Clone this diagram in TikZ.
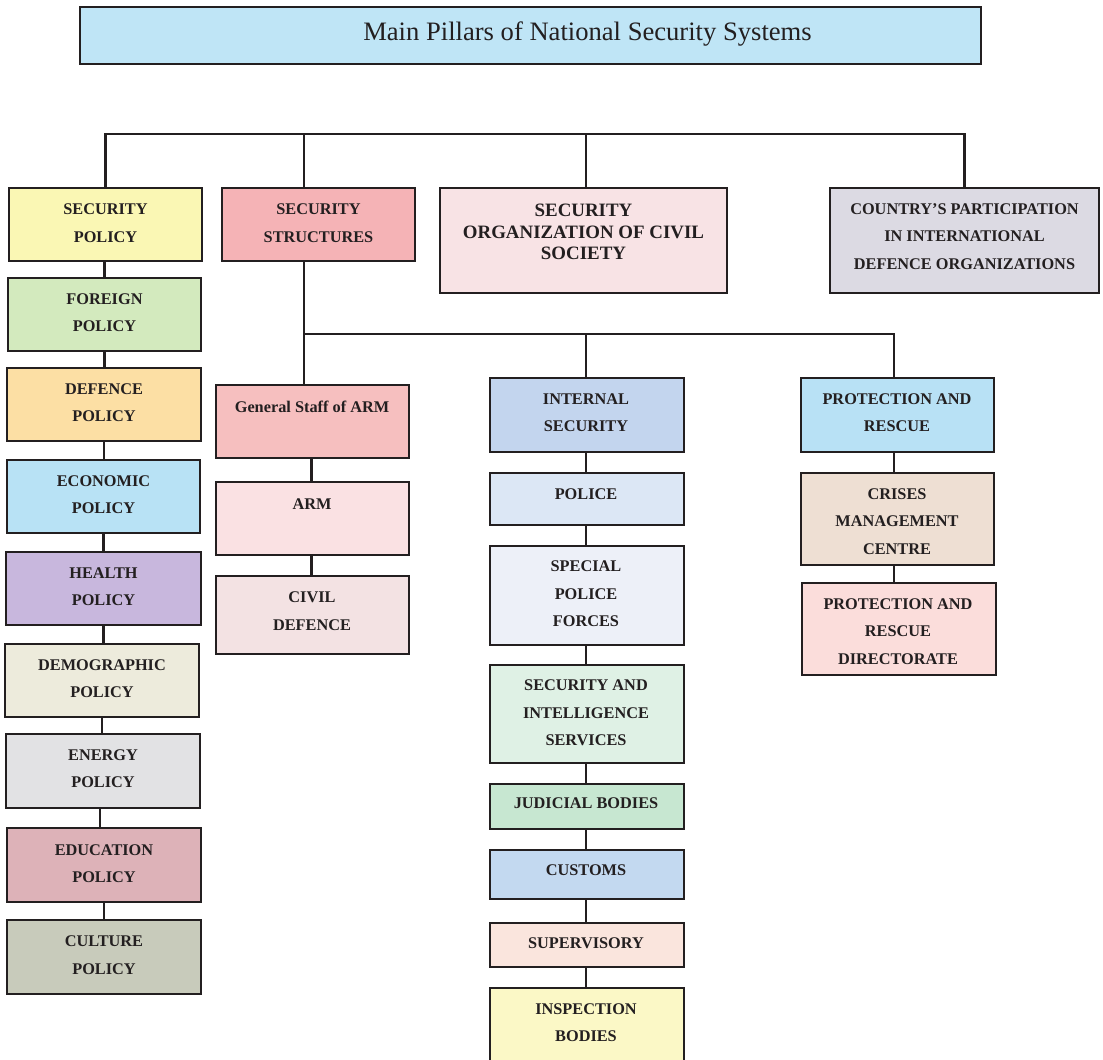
\documentclass[tikz,border=0pt]{standalone}
\usepackage{fontspec}
\setmainfont{Liberation Serif}
\usetikzlibrary{fit}

\definecolor{ink}{HTML}{231F20}
\definecolor{cTitle}{HTML}{BFE5F6}
\definecolor{cSecPol}{HTML}{FAF7B4}
\definecolor{cSecStr}{HTML}{F5B3B6}
\definecolor{cCivil}{HTML}{F8E3E5}
\definecolor{cCountry}{HTML}{DCDAE3}
\definecolor{cForeign}{HTML}{D3EABE}
\definecolor{cDefence}{HTML}{FCDFA4}
\definecolor{cEconomic}{HTML}{B8E2F5}
\definecolor{cHealth}{HTML}{C8B7DD}
\definecolor{cDemo}{HTML}{EDEBDC}
\definecolor{cEnergy}{HTML}{E2E2E4}
\definecolor{cEducation}{HTML}{DDB2B8}
\definecolor{cCulture}{HTML}{C8CBBB}
\definecolor{cGenStaff}{HTML}{F6BFBF}
\definecolor{cArm}{HTML}{FAE1E3}
\definecolor{cCivDef}{HTML}{F3E2E3}
\definecolor{cInternal}{HTML}{C3D5EE}
\definecolor{cPolice}{HTML}{DCE7F5}
\definecolor{cSpecial}{HTML}{EDF0F8}
\definecolor{cIntel}{HTML}{DFF1E5}
\definecolor{cJudicial}{HTML}{C7E7D1}
\definecolor{cCustoms}{HTML}{C3D9F0}
\definecolor{cSuperv}{HTML}{FAE5DD}
\definecolor{cInspect}{HTML}{FBF8C6}
\definecolor{cProtect}{HTML}{B8E1F5}
\definecolor{cCrises}{HTML}{EEDFD3}
\definecolor{cDirect}{HTML}{FBDDDB}

\tikzset{
  box/.style={draw=ink, line width=2.1pt, rectangle, inner sep=0pt, fill=#1},
  lbl/.style={inner sep=0pt, align=center, text=ink,
    font=\fontsize{16.3}{27.5}\selectfont\bfseries},
  biglbl/.style={inner sep=0pt, align=center, text=ink,
    font=\fontsize{18.9}{21.5}\selectfont\bfseries},
  link/.style={draw=ink, line width=2.1pt},
}

\begin{document}
\begin{tikzpicture}[x=1pt, y=-1pt]
\clip (0,0) rectangle (1103,1060);
\fill[white] (0,0) rectangle (1103,1060);

% title
\node[box=cTitle, fit={(80,7) (981,64)}] (title) {};
\node[inner sep=0pt, text=ink, font=\fontsize{26.6}{30}\selectfont] (title-t) at (587.5,34.5) {Main Pillars of National Security Systems};

% first level
\node[box=cSecPol,  fit={(9,188) (202,261)}]   (sp)  {};
\node[lbl] (sp-t) at (105.5,223) {SECURITY\\POLICY};
\node[box=cSecStr,  fit={(222,188) (415,261)}] (ss)  {};
\node[lbl] (ss-t) at (318.5,223) {SECURITY\\STRUCTURES};
\node[box=cCivil,   fit={(440,188) (727,293)}] (cs)  {};
\node[biglbl] (cs-t) at (583.5,232) {SECURITY\\ORGANIZATION OF CIVIL\\SOCIETY};
\node[box=cCountry, fit={(830,188) (1099,293)}] (cty) {};
\node[lbl] (cty-t) at (964.5,236.5) {COUNTRY'S PARTICIPATION\\IN INTERNATIONAL\\DEFENCE ORGANIZATIONS};

% policies
\node[box=cForeign,   fit={(8,278) (201,351)}] (fp)   {};
\node[lbl] (fp-t) at (104.5,312.5) {FOREIGN\\POLICY};
\node[box=cDefence,   fit={(7,368) (201,441)}] (dp)   {};
\node[lbl] (dp-t) at (104,402.5) {DEFENCE\\POLICY};
\node[box=cEconomic,  fit={(7,460) (200,533)}] (ep)   {};
\node[lbl] (ep-t) at (103.5,494.5) {ECONOMIC\\POLICY};
\node[box=cHealth,    fit={(6,552) (201,625)}] (hp)   {};
\node[lbl] (hp-t) at (103.5,586.5) {HEALTH\\POLICY};
\node[box=cDemo,      fit={(5,644) (199,717)}] (demo) {};
\node[lbl] (demo-t) at (102,678.5) {DEMOGRAPHIC\\POLICY};
\node[box=cEnergy,    fit={(6,734) (200,808)}] (en)   {};
\node[lbl] (en-t) at (103,768.5) {ENERGY\\POLICY};
\node[box=cEducation, fit={(7,828) (201,902)}] (edu)  {};
\node[lbl] (edu-t) at (104,863.5) {EDUCATION\\POLICY};
\node[box=cCulture,   fit={(7,920) (201,994)}] (cu)   {};
\node[lbl] (cu-t) at (104,955) {CULTURE\\POLICY};

% security structures
\node[box=cGenStaff, fit={(216,385) (409,458)}] (gs)  {};
\node[lbl] (gs-t) at (312,406.5) {General Staff of ARM};
\node[box=cArm,      fit={(216,482) (409,555)}] (arm) {};
\node[lbl] (arm-t) at (312,504.5) {ARM};
\node[box=cCivDef,   fit={(216,576) (409,654)}] (cd)  {};
\node[lbl] (cd-t) at (312,611) {CIVIL\\DEFENCE};

% internal security
\node[box=cInternal, fit={(490,378) (684,452)}]  (is)  {};
\node[lbl] (is-t) at (586,412.5) {INTERNAL\\SECURITY};
\node[box=cPolice,   fit={(490,473) (684,525)}]  (po)  {};
\node[lbl] (po-t) at (586,494.5) {POLICE};
\node[box=cSpecial,  fit={(490,546) (684,645)}]  (spf) {};
\node[lbl] (spf-t) at (586,594) {SPECIAL\\POLICE\\FORCES};
\node[box=cIntel,    fit={(490,665) (684,763)}]  (sis) {};
\node[lbl] (sis-t) at (586,713) {SECURITY AND\\INTELLIGENCE\\SERVICES};
\node[box=cJudicial, fit={(490,784) (684,829)}]  (jb)  {};
\node[lbl] (jb-t) at (586,803.5) {JUDICIAL BODIES};
\node[box=cCustoms,  fit={(490,850) (684,899)}]  (cus) {};
\node[lbl] (cus-t) at (586,870.5) {CUSTOMS};
\node[box=cSuperv,   fit={(490,923) (684,967)}]  (sup) {};
\node[lbl] (sup-t) at (586,943.5) {SUPERVISORY};
\node[box=cInspect,  fit={(490,988) (684,1075)}] (ins) {};
\node[lbl] (ins-t) at (586,1022.5) {INSPECTION\\BODIES};

% protection and rescue
\node[box=cProtect, fit={(801,378) (994,452)}] (pr)   {};
\node[lbl] (pr-t) at (897,412.5) {PROTECTION AND\\RESCUE};
\node[box=cCrises,  fit={(801,473) (994,565)}] (cmc)  {};
\node[lbl] (cmc-t) at (897,521.5) {CRISES\\MANAGEMENT\\CENTRE};
\node[box=cDirect,  fit={(802,583) (996,675)}] (prd)  {};
\node[lbl] (prd-t) at (898,631.5) {PROTECTION AND\\RESCUE\\DIRECTORATE};

% bus lines
\coordinate (topbus) at (0,134);
\coordinate (lowbus) at (0,334);
\coordinate (ssx) at (304,0);

\draw[link] (sp.north) -- (sp.north |- topbus) -- (cty.north |- topbus) -- (cty.north);
\draw[link] (ss.north -| ssx) -- (ssx |- topbus);
\draw[link] ([xshift=2.5pt]cs.north) -- ([xshift=2.5pt]cs.north |- topbus);

\draw[link] (ss.south -| ssx) -- (gs.north -| ssx);
\draw[link] (ssx |- lowbus) -- ([xshift=-3.5pt]pr.north |- lowbus) -- ([xshift=-3.5pt]pr.north);
\draw[link] ([xshift=-1pt]is.north |- lowbus) -- ([xshift=-1pt]is.north);

% policy chain
\draw[link] ([xshift=-1pt]sp.south) -- ([xshift=-1pt]sp.south |- fp.north);
\draw[link] (fp.south) -- (fp.south |- dp.north);
\draw[link] (dp.south) -- (dp.south |- ep.north);
\draw[link] (ep.south) -- (ep.south |- hp.north);
\draw[link] (hp.south) -- (hp.south |- demo.north);
\draw[link] (demo.south) -- (demo.south |- en.north);
\draw[link] ([xshift=-3pt]en.south) -- ([xshift=-3pt]en.south |- edu.north);
\draw[link] (edu.south) -- (edu.south |- cu.north);

% structures chain
\draw[link] ([xshift=-1pt]gs.south) -- ([xshift=-1pt]gs.south |- arm.north);
\draw[link] ([xshift=-1pt]arm.south) -- ([xshift=-1pt]arm.south |- cd.north);

% internal security chain
\draw[link] ([xshift=-1pt]is.south) -- ([xshift=-1pt]is.south |- po.north);
\draw[link] ([xshift=-1pt]po.south) -- ([xshift=-1pt]po.south |- spf.north);
\draw[link] ([xshift=-1pt]spf.south) -- ([xshift=-1pt]spf.south |- sis.north);
\draw[link] ([xshift=-1pt]sis.south) -- ([xshift=-1pt]sis.south |- jb.north);
\draw[link] ([xshift=-1pt]jb.south) -- ([xshift=-1pt]jb.south |- cus.north);
\draw[link] ([xshift=-1pt]cus.south) -- ([xshift=-1pt]cus.south |- sup.north);
\draw[link] ([xshift=-1pt]sup.south) -- ([xshift=-1pt]sup.south |- ins.north);

% protection chain
\draw[link] ([xshift=-3.5pt]pr.south) -- ([xshift=-3.5pt]pr.south |- cmc.north);
\draw[link] ([xshift=-3.5pt]cmc.south) -- ([xshift=-3.5pt]cmc.south |- prd.north);
\end{tikzpicture}
\end{document}
